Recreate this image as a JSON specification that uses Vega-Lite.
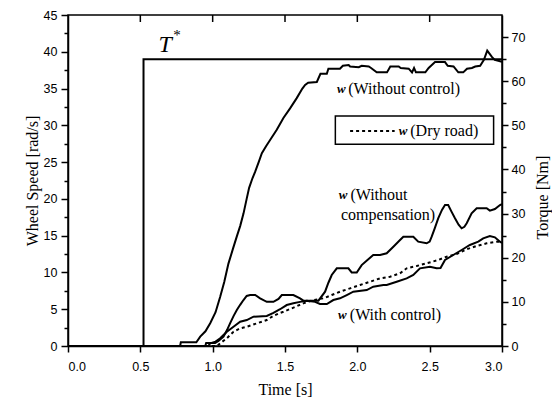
{
  "$schema": "https://vega.github.io/schema/vega-lite/v6.json",
  "width": 434,
  "height": 331,
  "autosize": "none",
  "padding": {"left": 68, "top": 15, "right": 50, "bottom": 52},
  "background": "white",
  "config": {
    "view": {"stroke": "black", "strokeWidth": 1.5},
    "axis": {
      "grid": false,
      "domainColor": "black",
      "domainWidth": 1.5,
      "tickColor": "black",
      "tickWidth": 1.5,
      "labelColor": "black",
      "labelFont": "Liberation Sans",
      "labelFontSize": 12.5,
      "titleFont": "Liberation Serif",
      "titleFontSize": 16,
      "titleFontWeight": "normal",
      "titleColor": "black"
    }
  },
  "datasets": {
    "ws": [
      {"s": "wc", "t": 0, "v": 0},
      {"s": "wc", "t": 0.775, "v": 0},
      {"s": "wc", "t": 0.78, "v": 0.5},
      {"s": "wc", "t": 0.887, "v": 0.5},
      {"s": "wc", "t": 0.914, "v": 1.27},
      {"s": "wc", "t": 0.95, "v": 2.0},
      {"s": "wc", "t": 0.983, "v": 3.1},
      {"s": "wc", "t": 1.02, "v": 4.6},
      {"s": "wc", "t": 1.052, "v": 6.7},
      {"s": "wc", "t": 1.08, "v": 8.7},
      {"s": "wc", "t": 1.109, "v": 11.2},
      {"s": "wc", "t": 1.14, "v": 13.2},
      {"s": "wc", "t": 1.167, "v": 14.9},
      {"s": "wc", "t": 1.19, "v": 16.3},
      {"s": "wc", "t": 1.213, "v": 18.0},
      {"s": "wc", "t": 1.235, "v": 20.0},
      {"s": "wc", "t": 1.252, "v": 21.5},
      {"s": "wc", "t": 1.275, "v": 22.8},
      {"s": "wc", "t": 1.294, "v": 23.7},
      {"s": "wc", "t": 1.32, "v": 25.1},
      {"s": "wc", "t": 1.34, "v": 26.2},
      {"s": "wc", "t": 1.37, "v": 27.2},
      {"s": "wc", "t": 1.397, "v": 28.0},
      {"s": "wc", "t": 1.443, "v": 29.4},
      {"s": "wc", "t": 1.489, "v": 31.0},
      {"s": "wc", "t": 1.535, "v": 32.3},
      {"s": "wc", "t": 1.581, "v": 33.7},
      {"s": "wc", "t": 1.62, "v": 35.0},
      {"s": "wc", "t": 1.639, "v": 35.5},
      {"s": "wc", "t": 1.66, "v": 35.8},
      {"s": "wc", "t": 1.72, "v": 35.9},
      {"s": "wc", "t": 1.745, "v": 37.0},
      {"s": "wc", "t": 1.789, "v": 37.0},
      {"s": "wc", "t": 1.80, "v": 37.7},
      {"s": "wc", "t": 1.88, "v": 37.7},
      {"s": "wc", "t": 1.90, "v": 38.1},
      {"s": "wc", "t": 1.94, "v": 38.2},
      {"s": "wc", "t": 1.95, "v": 38.0},
      {"s": "wc", "t": 2.01, "v": 37.9},
      {"s": "wc", "t": 2.03, "v": 38.1},
      {"s": "wc", "t": 2.079, "v": 38.0},
      {"s": "wc", "t": 2.095, "v": 37.8},
      {"s": "wc", "t": 2.134, "v": 37.2},
      {"s": "wc", "t": 2.205, "v": 37.2},
      {"s": "wc", "t": 2.228, "v": 38.0},
      {"s": "wc", "t": 2.286, "v": 38.0},
      {"s": "wc", "t": 2.30, "v": 37.8},
      {"s": "wc", "t": 2.355, "v": 37.7},
      {"s": "wc", "t": 2.378, "v": 37.2},
      {"s": "wc", "t": 2.392, "v": 37.8},
      {"s": "wc", "t": 2.405, "v": 37.2},
      {"s": "wc", "t": 2.470, "v": 37.2},
      {"s": "wc", "t": 2.493, "v": 37.8},
      {"s": "wc", "t": 2.537, "v": 38.6},
      {"s": "wc", "t": 2.606, "v": 38.6},
      {"s": "wc", "t": 2.625, "v": 38.1},
      {"s": "wc", "t": 2.665, "v": 38.0},
      {"s": "wc", "t": 2.698, "v": 37.2},
      {"s": "wc", "t": 2.732, "v": 37.2},
      {"s": "wc", "t": 2.758, "v": 37.7},
      {"s": "wc", "t": 2.792, "v": 37.8},
      {"s": "wc", "t": 2.815, "v": 38.0},
      {"s": "wc", "t": 2.849, "v": 38.1},
      {"s": "wc", "t": 2.875, "v": 38.9},
      {"s": "wc", "t": 2.898, "v": 40.15},
      {"s": "wc", "t": 2.930, "v": 39.3},
      {"s": "wc", "t": 2.950, "v": 38.9},
      {"s": "wc", "t": 3.0, "v": 38.65},

      {"s": "wo", "t": 0, "v": 0},
      {"s": "wo", "t": 0.949, "v": 0},
      {"s": "wo", "t": 0.955, "v": 0.4},
      {"s": "wo", "t": 1.017, "v": 0.4},
      {"s": "wo", "t": 1.04, "v": 0.7},
      {"s": "wo", "t": 1.075, "v": 1.27},
      {"s": "wo", "t": 1.10, "v": 2.2},
      {"s": "wo", "t": 1.121, "v": 3.1},
      {"s": "wo", "t": 1.145, "v": 4.1},
      {"s": "wo", "t": 1.167, "v": 4.9},
      {"s": "wo", "t": 1.19, "v": 5.6},
      {"s": "wo", "t": 1.213, "v": 6.25},
      {"s": "wo", "t": 1.235, "v": 6.8},
      {"s": "wo", "t": 1.259, "v": 6.93},
      {"s": "wo", "t": 1.294, "v": 6.93},
      {"s": "wo", "t": 1.328, "v": 6.48},
      {"s": "wo", "t": 1.374, "v": 6.0},
      {"s": "wo", "t": 1.42, "v": 6.0},
      {"s": "wo", "t": 1.455, "v": 6.4},
      {"s": "wo", "t": 1.478, "v": 6.93},
      {"s": "wo", "t": 1.558, "v": 6.93},
      {"s": "wo", "t": 1.604, "v": 6.48},
      {"s": "wo", "t": 1.627, "v": 6.16},
      {"s": "wo", "t": 1.731, "v": 6.16},
      {"s": "wo", "t": 1.777, "v": 7.38},
      {"s": "wo", "t": 1.80, "v": 8.6},
      {"s": "wo", "t": 1.823, "v": 9.65},
      {"s": "wo", "t": 1.858, "v": 10.56},
      {"s": "wo", "t": 1.938, "v": 10.56},
      {"s": "wo", "t": 1.961, "v": 10.0},
      {"s": "wo", "t": 1.996, "v": 10.0},
      {"s": "wo", "t": 2.030, "v": 11.0},
      {"s": "wo", "t": 2.07, "v": 11.7},
      {"s": "wo", "t": 2.11, "v": 12.37},
      {"s": "wo", "t": 2.157, "v": 12.37},
      {"s": "wo", "t": 2.203, "v": 12.6},
      {"s": "wo", "t": 2.249, "v": 13.5},
      {"s": "wo", "t": 2.29, "v": 14.3},
      {"s": "wo", "t": 2.318, "v": 14.86},
      {"s": "wo", "t": 2.387, "v": 14.86},
      {"s": "wo", "t": 2.421, "v": 14.18},
      {"s": "wo", "t": 2.479, "v": 13.96},
      {"s": "wo", "t": 2.50, "v": 14.2},
      {"s": "wo", "t": 2.514, "v": 14.86},
      {"s": "wo", "t": 2.535, "v": 16.0},
      {"s": "wo", "t": 2.559, "v": 17.36},
      {"s": "wo", "t": 2.585, "v": 18.5},
      {"s": "wo", "t": 2.606, "v": 19.17},
      {"s": "wo", "t": 2.628, "v": 19.17},
      {"s": "wo", "t": 2.65, "v": 18.3},
      {"s": "wo", "t": 2.675, "v": 17.36},
      {"s": "wo", "t": 2.70, "v": 16.5},
      {"s": "wo", "t": 2.721, "v": 16.0},
      {"s": "wo", "t": 2.74, "v": 16.2},
      {"s": "wo", "t": 2.756, "v": 16.68},
      {"s": "wo", "t": 2.790, "v": 18.04},
      {"s": "wo", "t": 2.825, "v": 18.72},
      {"s": "wo", "t": 2.894, "v": 18.72},
      {"s": "wo", "t": 2.916, "v": 18.4},
      {"s": "wo", "t": 2.951, "v": 18.62},
      {"s": "wo", "t": 2.986, "v": 19.17},
      {"s": "wo", "t": 3.0, "v": 19.3},

      {"s": "wcc", "t": 0, "v": 0},
      {"s": "wcc", "t": 0.97, "v": 0},
      {"s": "wcc", "t": 0.983, "v": 0.37},
      {"s": "wcc", "t": 1.02, "v": 0.6},
      {"s": "wcc", "t": 1.052, "v": 1.05},
      {"s": "wcc", "t": 1.075, "v": 1.5},
      {"s": "wcc", "t": 1.098, "v": 1.94},
      {"s": "wcc", "t": 1.144, "v": 2.62},
      {"s": "wcc", "t": 1.19, "v": 3.3},
      {"s": "wcc", "t": 1.236, "v": 3.53},
      {"s": "wcc", "t": 1.282, "v": 3.98},
      {"s": "wcc", "t": 1.374, "v": 4.08},
      {"s": "wcc", "t": 1.42, "v": 4.5},
      {"s": "wcc", "t": 1.466, "v": 5.0},
      {"s": "wcc", "t": 1.512, "v": 5.57},
      {"s": "wcc", "t": 1.558, "v": 5.8},
      {"s": "wcc", "t": 1.604, "v": 6.0},
      {"s": "wcc", "t": 1.651, "v": 6.16},
      {"s": "wcc", "t": 1.708, "v": 6.0},
      {"s": "wcc", "t": 1.742, "v": 5.71},
      {"s": "wcc", "t": 1.789, "v": 5.71},
      {"s": "wcc", "t": 1.834, "v": 6.25},
      {"s": "wcc", "t": 1.88, "v": 6.48},
      {"s": "wcc", "t": 1.927, "v": 6.93},
      {"s": "wcc", "t": 1.972, "v": 7.38},
      {"s": "wcc", "t": 2.065, "v": 7.61},
      {"s": "wcc", "t": 2.11, "v": 8.06},
      {"s": "wcc", "t": 2.18, "v": 8.29},
      {"s": "wcc", "t": 2.203, "v": 8.29},
      {"s": "wcc", "t": 2.272, "v": 8.74},
      {"s": "wcc", "t": 2.341, "v": 9.2},
      {"s": "wcc", "t": 2.387, "v": 9.65},
      {"s": "wcc", "t": 2.433, "v": 10.56},
      {"s": "wcc", "t": 2.502, "v": 10.78},
      {"s": "wcc", "t": 2.548, "v": 10.56},
      {"s": "wcc", "t": 2.575, "v": 10.6},
      {"s": "wcc", "t": 2.606, "v": 11.7},
      {"s": "wcc", "t": 2.663, "v": 12.37},
      {"s": "wcc", "t": 2.721, "v": 13.05},
      {"s": "wcc", "t": 2.778, "v": 13.73},
      {"s": "wcc", "t": 2.836, "v": 14.18},
      {"s": "wcc", "t": 2.87, "v": 14.64},
      {"s": "wcc", "t": 2.916, "v": 14.95},
      {"s": "wcc", "t": 2.951, "v": 14.77},
      {"s": "wcc", "t": 2.986, "v": 14.18},
      {"s": "wcc", "t": 3.0, "v": 14.0},

      {"s": "dry", "t": 0, "v": 0},
      {"s": "dry", "t": 1.03, "v": 0},
      {"s": "dry", "t": 1.052, "v": 0.37},
      {"s": "dry", "t": 1.098, "v": 1.05},
      {"s": "dry", "t": 1.144, "v": 1.94},
      {"s": "dry", "t": 1.19, "v": 2.4},
      {"s": "dry", "t": 1.236, "v": 2.62},
      {"s": "dry", "t": 1.305, "v": 3.08},
      {"s": "dry", "t": 1.374, "v": 3.53},
      {"s": "dry", "t": 1.42, "v": 4.1},
      {"s": "dry", "t": 1.466, "v": 4.5},
      {"s": "dry", "t": 1.489, "v": 4.66},
      {"s": "dry", "t": 1.547, "v": 5.12},
      {"s": "dry", "t": 1.627, "v": 5.8},
      {"s": "dry", "t": 1.696, "v": 6.25},
      {"s": "dry", "t": 1.765, "v": 6.48},
      {"s": "dry", "t": 1.823, "v": 6.93},
      {"s": "dry", "t": 1.88, "v": 7.38},
      {"s": "dry", "t": 1.95, "v": 7.84},
      {"s": "dry", "t": 2.019, "v": 8.29},
      {"s": "dry", "t": 2.088, "v": 8.74},
      {"s": "dry", "t": 2.157, "v": 9.2},
      {"s": "dry", "t": 2.226, "v": 9.42},
      {"s": "dry", "t": 2.295, "v": 9.88},
      {"s": "dry", "t": 2.341, "v": 10.56},
      {"s": "dry", "t": 2.41, "v": 10.88},
      {"s": "dry", "t": 2.479, "v": 11.24},
      {"s": "dry", "t": 2.559, "v": 11.69},
      {"s": "dry", "t": 2.617, "v": 12.14},
      {"s": "dry", "t": 2.686, "v": 12.5},
      {"s": "dry", "t": 2.756, "v": 13.15},
      {"s": "dry", "t": 2.825, "v": 13.6},
      {"s": "dry", "t": 2.894, "v": 13.96},
      {"s": "dry", "t": 2.963, "v": 14.18},
      {"s": "dry", "t": 3.0, "v": 14.2}
    ],
    "torque": [
      {"i": 0, "t": 0, "q": 0},
      {"i": 1, "t": 0.522, "q": 0},
      {"i": 2, "t": 0.522, "q": 65},
      {"i": 3, "t": 3.0, "q": 65}
    ],
    "topticks": [
      {"t": 0.5, "v": 45, "v2": 44.05},
      {"t": 1.0, "v": 45, "v2": 44.05},
      {"t": 1.5, "v": 45, "v2": 44.05},
      {"t": 2.0, "v": 45, "v2": 44.05},
      {"t": 2.5, "v": 45, "v2": 44.05}
    ],
    "wsym": [
      {"t": 1.860, "v": 34.9, "label": "w"},
      {"t": 2.286, "v": 29.23, "label": "w"},
      {"t": 1.872, "v": 20.53, "label": "w"},
      {"t": 1.867, "v": 4.21, "label": "w"}
    ],
    "notes": [
      {"t": 1.937, "v": 34.9, "label": "(Without control)"},
      {"t": 2.366, "v": 29.23, "label": "(Dry road)"},
      {"t": 1.952, "v": 20.53, "label": "(Without"},
      {"t": 1.887, "v": 17.81, "label": "compensation)"},
      {"t": 1.948, "v": 4.21, "label": "(With control)"}
    ],
    "box": [
      {"t": 1.848, "t2": 2.942, "v": 27.42, "v2": 31.27}
    ],
    "sample": [
      {"t": 1.95, "t2": 2.258, "v": 29.23}
    ],
    "tstar": [
      {"t": 0.672, "v": 40.9, "label": "T"}
    ],
    "star": [
      {"t": 0.753, "v": 42.3, "label": "*"}
    ]
  },
  "layer": [
    {
      "data": {"name": "ws"},
      "transform": [{"filter": "datum.s !== 'dry'"}],
      "mark": {"type": "line", "color": "black", "strokeWidth": 2},
      "encoding": {
        "x": {
          "field": "t", "type": "quantitative",
          "scale": {"domain": [0, 3], "nice": false, "zero": false},
          "axis": {
            "orient": "bottom",
            "values": [0, 0.5, 1, 1.5, 2, 2.5, 3],
            "format": ".1f",
            "tickSize": 6,
            "labelPadding": 8,
            "title": "Time [s]",
            "titleFontWeight": "normal",
            "titlePadding": 9
          }
        },
        "y": {
          "field": "v", "type": "quantitative",
          "scale": {"domain": [0, 45], "nice": false},
          "axis": {
            "orient": "left",
            "values": [0, 2.5, 5, 7.5, 10, 12.5, 15, 17.5, 20, 22.5, 25, 27.5, 30, 32.5, 35, 37.5, 40, 42.5, 45],
            "labelExpr": "datum.value % 5 === 0 ? datum.label : ''",
            "labelOverlap": false,
            "tickSize": {"condition": {"test": "datum.value % 5 !== 0", "value": 4}, "value": 7},
            "labelPadding": 4,
            "title": "Wheel Speed [rad/s]",
            "titlePadding": 3
          }
        },
        "detail": {"field": "s", "type": "nominal"}
      }
    },
    {
      "data": {"name": "ws"},
      "transform": [{"filter": "datum.s === 'dry'"}],
      "mark": {"type": "line", "color": "black", "strokeWidth": 2, "strokeDash": [3, 3]},
      "encoding": {
        "x": {"field": "t", "type": "quantitative", "axis": null},
        "y": {"field": "v", "type": "quantitative", "scale": {"domain": [0, 45], "nice": false}, "axis": null}
      }
    },
    {
      "data": {"name": "topticks"},
      "mark": {"type": "rule", "color": "black", "strokeWidth": 1.5},
      "encoding": {
        "x": {"field": "t", "type": "quantitative", "axis": null},
        "y": {"field": "v", "type": "quantitative", "scale": {"domain": [0, 45], "nice": false}, "axis": null},
        "y2": {"field": "v2"}
      }
    },
    {
      "data": {"name": "box"},
      "mark": {"type": "rect", "fill": "white", "stroke": "black", "strokeWidth": 1.5},
      "encoding": {
        "x": {"field": "t", "type": "quantitative", "axis": null},
        "x2": {"field": "t2"},
        "y": {"field": "v", "type": "quantitative", "scale": {"domain": [0, 45], "nice": false}, "axis": null},
        "y2": {"field": "v2"}
      }
    },
    {
      "data": {"name": "sample"},
      "mark": {"type": "rule", "color": "black", "strokeWidth": 2, "strokeDash": [3, 3]},
      "encoding": {
        "x": {"field": "t", "type": "quantitative", "axis": null},
        "x2": {"field": "t2"},
        "y": {"field": "v", "type": "quantitative", "scale": {"domain": [0, 45], "nice": false}, "axis": null}
      }
    },
    {
      "data": {"name": "wsym"},
      "mark": {"type": "text", "font": "Liberation Serif", "fontSize": 13, "fontWeight": "bold", "fontStyle": "italic", "align": "left", "baseline": "middle", "color": "black"},
      "encoding": {
        "x": {"field": "t", "type": "quantitative", "axis": null},
        "y": {"field": "v", "type": "quantitative", "scale": {"domain": [0, 45], "nice": false}, "axis": null},
        "text": {"field": "label"}
      }
    },
    {
      "data": {"name": "notes"},
      "mark": {"type": "text", "font": "Liberation Serif", "fontSize": 16, "align": "left", "baseline": "middle", "color": "black"},
      "encoding": {
        "x": {"field": "t", "type": "quantitative", "axis": null},
        "y": {"field": "v", "type": "quantitative", "scale": {"domain": [0, 45], "nice": false}, "axis": null},
        "text": {"field": "label"}
      }
    },
    {
      "data": {"name": "tstar"},
      "mark": {"type": "text", "font": "Liberation Serif", "fontSize": 24, "fontStyle": "italic", "align": "center", "baseline": "middle", "color": "black"},
      "encoding": {
        "x": {"field": "t", "type": "quantitative", "axis": null},
        "y": {"field": "v", "type": "quantitative", "scale": {"domain": [0, 45], "nice": false}, "axis": null},
        "text": {"field": "label"}
      }
    },
    {
      "data": {"name": "star"},
      "mark": {"type": "text", "font": "Liberation Serif", "fontSize": 15, "align": "center", "baseline": "middle", "color": "black"},
      "encoding": {
        "x": {"field": "t", "type": "quantitative", "axis": null},
        "y": {"field": "v", "type": "quantitative", "scale": {"domain": [0, 45], "nice": false}, "axis": null},
        "text": {"field": "label"}
      }
    },
    {
      "data": {"name": "torque"},
      "mark": {"type": "line", "color": "black", "strokeWidth": 2},
      "encoding": {
        "x": {"field": "t", "type": "quantitative", "axis": null},
        "y": {
          "field": "q", "type": "quantitative",
          "scale": {"domain": [0, 75], "nice": false},
          "axis": {
            "orient": "right",
            "values": [0, 5, 10, 15, 20, 25, 30, 35, 40, 45, 50, 55, 60, 65, 70],
            "labelExpr": "datum.value % 10 === 0 ? datum.label : ''",
            "labelOverlap": false,
            "tickSize": {"condition": {"test": "datum.value % 10 !== 0", "value": 4}, "value": 6},
            "labelPadding": 3,
            "title": "Torque [Nm]",
            "titleAngle": 270,
            "titleBaseline": "top",
            "titlePadding": 10,
            "titleY": 182
          }
        },
        "order": {"field": "i", "type": "quantitative"}
      }
    }
  ],
  "resolve": {"scale": {"y": "independent"}, "axis": {"x": "independent"}}
}
